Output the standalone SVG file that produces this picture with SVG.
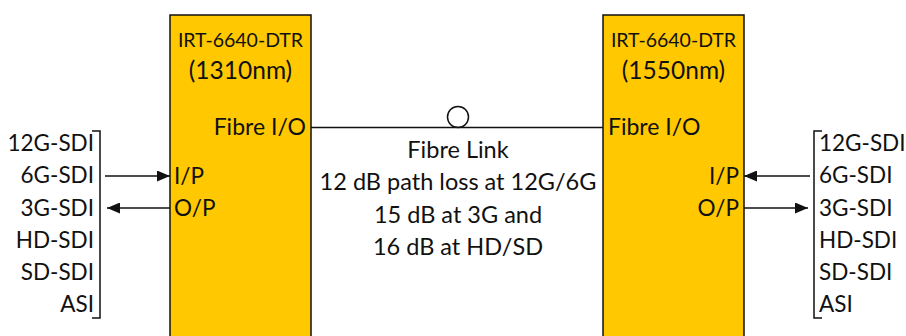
<svg xmlns="http://www.w3.org/2000/svg" width="906" height="336" viewBox="0 0 906 336">
<defs>
<style>
text{font-family:Lato,"Liberation Sans",sans-serif;fill:#111;font-size:22.5px}
.box{fill:#FFC800;stroke:#111;stroke-width:1.5}
.ln{stroke:#111;stroke-width:1.5;fill:none}
.t{font-size:19.5px}
.h{font-size:24.5px}
.c{font-size:23.5px}
.m{text-anchor:middle}
.e{text-anchor:end}
</style>
<marker id="ah" viewBox="0 0 13 11" refX="13" refY="5.5" markerWidth="13" markerHeight="11" markerUnits="userSpaceOnUse" orient="auto">
<path d="M0,0 L13,5.5 L0,11 Z" fill="#111"/>
</marker>
</defs>
<rect width="906" height="336" fill="#fff"/>
<g id="left-unit">
<rect class="box" x="170" y="15" width="141" height="330"/>
<text class="t m" x="240.5" y="47">IRT-6640-DTR</text>
<text class="h m" x="240.5" y="79">(1310nm)</text>
<text class="e" x="306" y="135" style="font-size:23px">Fibre I/O</text>
<text x="174" y="184">I/P</text>
<text x="174" y="216">O/P</text>
</g>
<g id="right-unit">
<rect class="box" x="603" y="15" width="141" height="330"/>
<text class="t m" x="673.5" y="47">IRT-6640-DTR</text>
<text class="h m" x="673.5" y="79">(1550nm)</text>
<text x="608" y="135" style="font-size:23px">Fibre I/O</text>
<text class="e" x="739" y="184">I/P</text>
<text class="e" x="739" y="216">O/P</text>
</g>
<g id="left-signals">
<text class="e" x="94" y="151">12G-SDI</text>
<text class="e" x="94" y="183">6G-SDI</text>
<text class="e" x="94" y="216">3G-SDI</text>
<text class="e" x="94" y="248">HD-SDI</text>
<text class="e" x="94" y="280">SD-SDI</text>
<text class="e" x="94" y="312">ASI</text>
<path class="ln" d="M92,131 H100 V318 H92"/>
</g>
<g id="right-signals">
<text x="819" y="151">12G-SDI</text>
<text x="819" y="183">6G-SDI</text>
<text x="819" y="216">3G-SDI</text>
<text x="819" y="248">HD-SDI</text>
<text x="819" y="280">SD-SDI</text>
<text x="819" y="312">ASI</text>
<path class="ln" d="M822,131 H814 V318 H822"/>
</g>
<g id="fibre-link">
<circle class="ln" cx="458" cy="117" r="10.5"/>
<text class="c m" x="458" y="158">Fibre Link</text>
<text class="c m" x="458" y="190">12 dB path loss at 12G/6G</text>
<text class="c m" x="458" y="223">15 dB at 3G and</text>
<text class="c m" x="458" y="255">16 dB at HD/SD</text>
</g>
<g id="connectors">
<line class="ln" x1="311" y1="127.5" x2="603" y2="127.5"/>
<line class="ln" x1="105" y1="176" x2="170" y2="176" marker-end="url(#ah)"/>
<line class="ln" x1="170" y1="208" x2="107" y2="208" marker-end="url(#ah)"/>
<line class="ln" x1="810" y1="176" x2="744" y2="176" marker-end="url(#ah)"/>
<line class="ln" x1="744" y1="208" x2="808" y2="208" marker-end="url(#ah)"/>
</g>
</svg>
